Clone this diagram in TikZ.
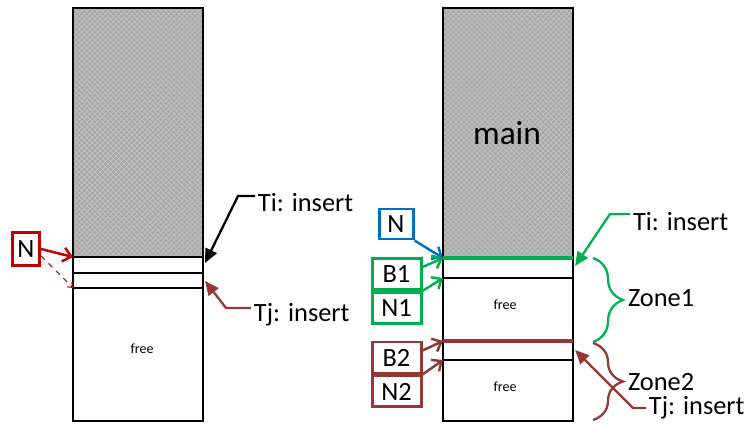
\documentclass[tikz,border=0pt]{standalone}
\usepackage{fontspec}
\setmainfont{Carlito}
\usepackage{tikz}
\usetikzlibrary{arrows.meta, positioning, patterns, decorations.pathreplacing}
\definecolor{tagred}{HTML}{C00000}
\definecolor{tagblue}{HTML}{0070C0}
\definecolor{taggreen}{HTML}{00B050}
\definecolor{tagbrown}{HTML}{953735}
\definecolor{usedgray}{HTML}{A6A6A6}
\definecolor{hatchlight}{HTML}{C4C4C4}
\tikzset{
  basebox/.style={draw, line width=1.7pt, minimum width=0.98cm, minimum height=0.62cm, inner sep=0pt, font=\fontsize{15}{15}\selectfont},
  redbox/.style={basebox, draw=tagred, minimum width=0.54cm, minimum height=0.66cm},
  bluebox/.style={basebox, draw=tagblue, minimum width=0.68cm, minimum height=0.6cm},
  greenbox/.style={basebox, draw=taggreen},
  brownbox/.style={basebox, draw=tagbrown},
  lbl/.style={font=\fontsize{15}{15}\selectfont, inner sep=1.5pt},
  freetxt/.style={font=\fontsize{8}{8}\selectfont},
  memline/.style={line width=1.2pt, black},
  usedarea/.style={fill=usedgray, postaction={pattern=north east lines, pattern color=hatchlight}, postaction={pattern=north west lines, pattern color=hatchlight}},
  ptrarr/.style={-{Straight Barb[length=4.5pt, width=8pt]}, line width=1.4pt},
  insarr/.style={-{Triangle[length=8pt, width=7pt]}, line width=1.3pt},
  zonebrace/.style={decorate, decoration={brace, amplitude=0.6cm}, line width=1.3pt}
}
\begin{document}
\begin{tikzpicture}
\useasboundingbox (0,0) rectangle (14.96,-8.5);

% ===== LEFT MEMORY =====
\path[usedarea] (1.46,-0.16) rectangle (4.06,-5.14);
\draw[memline] (1.46,-0.16) rectangle (4.06,-8.42);
\draw[memline] (1.46,-5.14) -- (4.06,-5.14);
\draw[memline] (1.46,-5.46) -- (4.06,-5.46);
\draw[memline] (1.46,-5.76) -- (4.06,-5.76);
\node[freetxt] (FL) at (2.84,-6.98) {free};

\coordinate (nL)  at (1.46,-5.14);
\coordinate (dL)  at (1.46,-5.76);
\coordinate (tiL) at (4.1,-5.26);
\coordinate (tjL) at (4.1,-5.62);

\node[redbox] (NL) at (0.52,-4.98) {N};
\node[lbl, anchor=west] (TiL) at (5.1,-4.06) {Ti: insert};
\node[lbl, anchor=west] (TjL) at (5.02,-6.3) {Tj: insert};

\draw[ptrarr, tagred] (NL.east) -- (nL);
\draw[tagred, dashed, line width=0.6pt, -{Straight Barb[length=2.5pt, width=4pt]}] (NL.-25) -- (dL);
\draw[insarr, black] ([yshift=1.4mm]TiL.west) -- ++(-0.34,0) -- (tiL);
\draw[insarr, tagbrown] ([yshift=1.4mm]TjL.west) -- ++(-0.5,0) -- (tjL);

% ===== RIGHT MEMORY =====
\path[usedarea] (8.86,-0.16) rectangle (11.46,-5.16);
\draw[memline] (8.86,-0.16) rectangle (11.46,-8.42);
\draw[memline] (8.86,-5.56) -- (11.46,-5.56);
\draw[memline] (8.86,-7.2) -- (11.46,-7.2);
\draw[line width=2pt, taggreen] (8.86,-5.16) -- (11.46,-5.16);
\draw[line width=2pt, tagbrown] (8.86,-6.82) -- (11.46,-6.82);
\node[font=\fontsize{19}{19}\selectfont] (MR) at (10.14,-2.66) {main};
\node[freetxt] (F1) at (10.1,-6.1) {free};
\node[freetxt] (F2) at (10.1,-7.74) {free};

\coordinate (b1) at (8.86,-5.16);
\coordinate (n1) at (8.86,-5.56);
\coordinate (b2) at (8.86,-6.82);
\coordinate (n2) at (8.86,-7.2);
\coordinate (tiR) at (11.5,-5.32);
\coordinate (tjR) at (11.5,-7.0);

\node[bluebox]  (NR) at (7.92,-4.48) {N};
\node[greenbox] (B1) at (7.93,-5.48) {B1};
\node[greenbox, below=0pt of B1] (N1) {N1};
\node[brownbox] (B2) at (7.93,-7.15) {B2};
\node[brownbox, below=0pt of B2] (N2) {N2};

\draw[ptrarr, tagblue]  (NR.south east) -- (b1);
\draw[ptrarr, taggreen] (B1.15) -- (b1);
\draw[ptrarr, taggreen] (B1.south east) -- (n1);
\draw[ptrarr, tagbrown] (B2.15) -- (b2);
\draw[ptrarr, tagbrown] (B2.south east) -- (n2);

% ===== ZONES =====
\draw[zonebrace, taggreen] (11.86,-5.16) -- (11.86,-6.84);
\draw[zonebrace, tagbrown] (11.86,-6.86) -- (11.86,-8.4);
\node[lbl, anchor=west] (Z1) at (12.5,-5.96) {Zone1};
\node[lbl, anchor=west] (Z2) at (12.5,-7.64) {Zone2};

\node[lbl, anchor=west] (TiR) at (12.6,-4.44) {Ti: insert};
\node[lbl, anchor=west] (TjR) at (12.92,-8.16) {Tj: insert};
\draw[insarr, taggreen] ([yshift=1.6mm]TiR.west) -- ++(-0.4,0) -- (tiR);
\draw[insarr, tagbrown] (TjR.west) -- ++(-0.26,0) -- (tjR);

\end{tikzpicture}
\end{document}
